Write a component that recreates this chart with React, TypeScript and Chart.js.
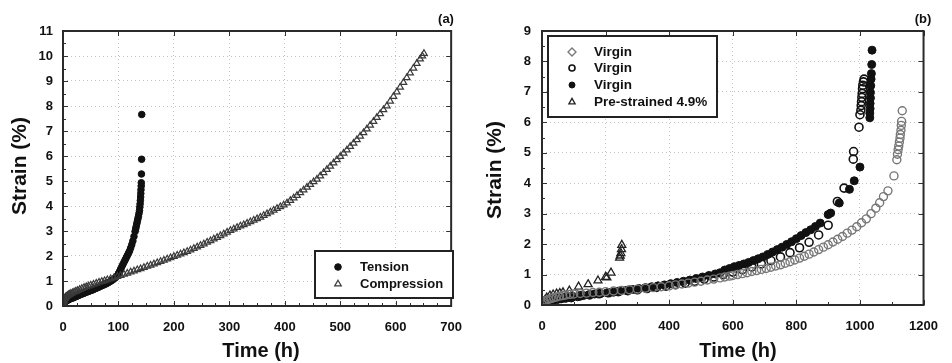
import React, { useEffect, useRef } from "react";
import { Chart, registerables } from "chart.js";
Chart.register(...registerables);

const FONT = '"Liberation Sans", Arial, Helvetica, sans-serif';

// ---------- Panel (a) ----------
const aLabels = ["Tension", "Compression"];
const aTensionTime = [0, 0.5, 1, 2, 3, 4, 6, 8, 10, 13, 16, 19, 22, 25, 28, 31, 34, 37, 40, 43, 46, 49, 52, 55, 58, 61, 64, 67, 70, 73, 76, 79, 82, 85, 88, 91, 94, 97, 100, 102, 104, 106, 108, 110, 112, 114, 116, 118, 120, 122, 124, 126, 128, 130, 131, 132, 133, 134, 135, 136, 137, 138, 138.5, 139, 139.5, 140, 140.3, 140.6, 141, 141.2, 141.5, 141.8, 142];
const aTensionStrain = [0.02, 0.06, 0.09, 0.12, 0.15, 0.17, 0.2, 0.23, 0.25, 0.28, 0.31, 0.33, 0.36, 0.39, 0.42, 0.45, 0.48, 0.5, 0.53, 0.56, 0.58, 0.61, 0.63, 0.66, 0.69, 0.72, 0.75, 0.78, 0.81, 0.84, 0.87, 0.9, 0.94, 0.98, 1.02, 1.07, 1.12, 1.19, 1.3, 1.38, 1.48, 1.57, 1.66, 1.75, 1.84, 1.93, 2.02, 2.11, 2.2, 2.32, 2.45, 2.6, 2.78, 2.98, 3.08, 3.18, 3.28, 3.38, 3.48, 3.58, 3.7, 3.82, 3.95, 4.08, 4.22, 4.36, 4.5, 4.65, 4.8, 4.93, 5.28, 5.87, 7.66];
const aCompTime = [0, 0.5, 1, 1.5, 2, 3, 4, 5, 6, 8, 10, 12, 14, 17, 20, 23, 26, 30, 34, 38, 42, 46, 50, 55, 60, 65, 70, 75, 80, 86, 92, 98, 104, 110, 116, 122, 128, 134, 140, 146, 152, 158, 164, 170, 176, 182, 188, 194, 200, 206, 212, 218, 224, 230, 236, 242, 248, 254, 260, 266, 272, 278, 284, 290, 296, 302, 308, 314, 320, 326, 332, 338, 344, 350, 356, 362, 368, 374, 380, 386, 392, 398, 404, 410, 416, 422, 428, 434, 440, 446, 452, 458, 464, 470, 476, 482, 488, 494, 500, 506, 512, 518, 524, 530, 536, 542, 548, 554, 560, 566, 572, 578, 584, 590, 596, 602, 608, 614, 620, 626, 632, 638, 644, 648, 651];
const aCompStrain = [0, 0.08, 0.14, 0.2, 0.24, 0.3, 0.33, 0.36, 0.38, 0.42, 0.45, 0.47, 0.5, 0.53, 0.56, 0.59, 0.62, 0.66, 0.7, 0.74, 0.77, 0.8, 0.83, 0.87, 0.91, 0.95, 0.98, 1.01, 1.05, 1.09, 1.13, 1.18, 1.22, 1.27, 1.31, 1.36, 1.4, 1.45, 1.49, 1.54, 1.59, 1.63, 1.68, 1.73, 1.78, 1.83, 1.88, 1.93, 1.98, 2.03, 2.08, 2.13, 2.18, 2.24, 2.3, 2.36, 2.42, 2.48, 2.55, 2.61, 2.68, 2.74, 2.81, 2.88, 2.95, 3.02, 3.08, 3.14, 3.2, 3.25, 3.31, 3.37, 3.43, 3.49, 3.55, 3.62, 3.69, 3.76, 3.83, 3.9, 3.97, 4.04, 4.12, 4.22, 4.32, 4.42, 4.53, 4.64, 4.75, 4.86, 4.97, 5.07, 5.2, 5.33, 5.46, 5.59, 5.72, 5.85, 5.98, 6.11, 6.24, 6.38, 6.51, 6.65, 6.79, 6.93, 7.08, 7.23, 7.38, 7.54, 7.69, 7.85, 8.0, 8.19, 8.38, 8.56, 8.75, 8.94, 9.13, 9.32, 9.51, 9.7, 9.88, 10.0, 10.1];

// ---------- Panel (b) ----------
const bLabels = ["Virgin", "Virgin", "Virgin", "Pre-strained 4.9%"];
const bV1Time = [0, 4, 8, 14, 20, 28, 36, 45, 55, 65, 75, 88, 100, 120, 140, 160, 180, 200, 225, 250, 275, 300, 325, 350, 375, 400, 420, 440, 460, 480, 500, 520, 540, 560, 575, 590, 600, 615, 630, 645, 660, 675, 690, 705, 720, 735, 750, 765, 780, 795, 810, 825, 840, 855, 870, 885, 900, 915, 930, 945, 960, 975, 990, 1005, 1020, 1035, 1050, 1062, 1074, 1088, 1107, 1116, 1118, 1120, 1122, 1124, 1126, 1127, 1129, 1130, 1131, 1133];
const bV1Strain = [0.02, 0.07, 0.11, 0.15, 0.18, 0.21, 0.24, 0.26, 0.29, 0.31, 0.33, 0.35, 0.36, 0.38, 0.39, 0.41, 0.42, 0.44, 0.46, 0.48, 0.5, 0.52, 0.55, 0.57, 0.6, 0.63, 0.66, 0.69, 0.72, 0.75, 0.78, 0.82, 0.85, 0.89, 0.92, 0.95, 0.97, 1.0, 1.03, 1.06, 1.1, 1.13, 1.17, 1.2, 1.24, 1.28, 1.32, 1.37, 1.42, 1.48, 1.54, 1.6, 1.67, 1.74, 1.82, 1.9, 1.98, 2.07, 2.16, 2.25, 2.36, 2.46, 2.57, 2.7, 2.83, 3.0, 3.18, 3.36, 3.56, 3.75, 4.24, 4.77, 4.95, 5.1, 5.22, 5.35, 5.48, 5.6, 5.74, 5.9, 6.03, 6.38];
const bV2Time = [0, 6, 12, 22, 35, 50, 70, 95, 120, 150, 180, 210, 240, 270, 300, 330, 360, 390, 420, 450, 480, 510, 540, 570, 600, 630, 660, 690, 720, 750, 780, 810, 840, 870, 900, 929, 950, 979, 980, 997, 1000, 1003, 1004, 1005, 1006, 1007, 1008, 1009, 1011, 1013];
const bV2Strain = [0.03, 0.08, 0.12, 0.16, 0.19, 0.21, 0.24, 0.28, 0.3, 0.33, 0.37, 0.4, 0.44, 0.47, 0.5, 0.54, 0.58, 0.62, 0.67, 0.72, 0.78, 0.85, 0.92, 1.0, 1.08, 1.16, 1.25, 1.35, 1.46, 1.58, 1.72, 1.88, 2.06, 2.3, 2.62, 3.4, 3.84, 4.79, 5.04, 5.84, 6.25, 6.4, 6.55, 6.68, 6.82, 6.95, 7.1, 7.22, 7.33, 7.42];
const bV3Time = [0, 5, 10, 18, 27, 36, 48, 60, 75, 92, 112, 130, 148, 165, 185, 205, 225, 245, 265, 285, 305, 325, 345, 365, 385, 405, 425, 445, 465, 485, 505, 525, 545, 560, 575, 590, 605, 620, 635, 650, 665, 680, 695, 710, 725, 740, 755, 770, 785, 800, 815, 830, 845, 860, 875, 900, 908, 935, 967, 982, 1000, 1031, 1031, 1032, 1032, 1033, 1033, 1034, 1035, 1036, 1037, 1038];
const bV3Strain = [0.02, 0.06, 0.09, 0.12, 0.14, 0.16, 0.18, 0.2, 0.22, 0.23, 0.27, 0.31, 0.34, 0.36, 0.38, 0.4, 0.42, 0.45, 0.48, 0.51, 0.54, 0.57, 0.6, 0.63, 0.66, 0.7, 0.74, 0.78, 0.82, 0.87, 0.92, 0.97, 1.02, 1.06, 1.15, 1.2, 1.26, 1.3, 1.35, 1.4, 1.46, 1.52, 1.58, 1.66, 1.74, 1.82, 1.9, 1.99, 2.08, 2.18, 2.28, 2.38, 2.47, 2.58, 2.69, 2.97, 3.02, 3.35, 3.8, 4.08, 4.53, 6.15, 6.3, 6.45, 6.62, 6.8, 6.98, 7.2, 7.42, 7.6, 7.9, 8.37];
const bPreTime = [0, 5, 10, 15, 25, 35, 46, 56, 66, 86, 115, 145, 176, 200, 204, 217, 244, 246, 248, 250, 251];
const bPreStrain = [0.02, 0.1, 0.17, 0.24, 0.31, 0.34, 0.37, 0.39, 0.41, 0.47, 0.6, 0.68, 0.8, 0.92, 0.9, 1.06, 1.55, 1.62, 1.7, 1.83, 1.97];

const pts = (t: number[], s: number[]) => t.map((x, i) => ({ x, y: s[i] }));

type Marker = { style: string; r: number; fill: string | null; stroke: string; lw: number };

function drawMarker(ctx: CanvasRenderingContext2D, x: number, y: number, m: Marker) {
  ctx.beginPath();
  if (m.style === "circle") {
    ctx.arc(x, y, m.r, 0, Math.PI * 2);
  } else if (m.style === "triangle") {
    for (let k = 0; k < 3; k++) {
      const a = (k * 2 * Math.PI) / 3;
      const px = x + Math.sin(a) * m.r;
      const py = y - Math.cos(a) * m.r;
      if (k === 0) ctx.moveTo(px, py);
      else ctx.lineTo(px, py);
    }
  } else if (m.style === "rectRot") {
    ctx.moveTo(x, y - m.r);
    ctx.lineTo(x + m.r, y);
    ctx.lineTo(x, y + m.r);
    ctx.lineTo(x - m.r, y);
  }
  ctx.closePath();
  if (m.fill) {
    ctx.fillStyle = m.fill;
    ctx.fill();
  }
  ctx.lineWidth = m.lw;
  ctx.strokeStyle = m.stroke;
  ctx.stroke();
}

const decorPlugin = {
  id: "decor",
  afterDraw(chart: any, _args: any, o: any) {
    const ctx: CanvasRenderingContext2D = chart.ctx;
    const xs = chart.scales.x;
    const ys = chart.scales.y;
    const { left, right, top, bottom } = chart.chartArea;
    ctx.save();
    ctx.strokeStyle = "#333";
    ctx.lineWidth = 1;
    const tick = (x1: number, y1: number, x2: number, y2: number) => {
      ctx.beginPath();
      ctx.moveTo(x1, y1);
      ctx.lineTo(x2, y2);
      ctx.stroke();
    };
    for (let v = xs.min; v <= xs.max + 1e-9; v += o.xMinor) {
      const px = Math.round(xs.getPixelForValue(v)) + 0.5;
      const major = Math.abs(v / o.xMajor - Math.round(v / o.xMajor)) < 1e-6;
      tick(px, bottom, px, bottom - (major ? 5 : 3));
      if (major) tick(px, top, px, top + 5);
    }
    for (let v = ys.min; v <= ys.max + 1e-9; v += o.yMinor) {
      const py = Math.round(ys.getPixelForValue(v)) + 0.5;
      const major = Math.abs(v / o.yMajor - Math.round(v / o.yMajor)) < 1e-6;
      tick(left, py, left + (major ? 5 : 3), py);
      if (major) tick(right, py, right - 5, py);
    }
    ctx.strokeStyle = "#2a2a2a";
    ctx.lineWidth = 2;
    ctx.strokeRect(left, top, right - left, bottom - top);

    const L = o.legend;
    ctx.fillStyle = "#fff";
    ctx.fillRect(L.x1, L.y1, L.x2 - L.x1, L.y2 - L.y1);
    ctx.strokeStyle = "#222";
    ctx.lineWidth = 2;
    ctx.strokeRect(L.x1, L.y1, L.x2 - L.x1, L.y2 - L.y1);
    ctx.font = `bold ${L.fontSize}px ${FONT}`;
    ctx.textAlign = "left";
    ctx.textBaseline = "middle";
    L.items.forEach((it: any, i: number) => {
      const y = L.rows[i];
      drawMarker(ctx, L.mx, y, it.marker);
      ctx.fillStyle = "#111";
      ctx.fillText(it.label, L.tx, y + 0.5);
    });

    ctx.fillStyle = "#111";
    ctx.textAlign = "center";
    ctx.textBaseline = "middle";
    ctx.font = `bold 20px ${FONT}`;
    ctx.fillText(o.xTitle.text, o.xTitle.x, o.xTitle.y);
    ctx.save();
    ctx.translate(o.yTitle.x, o.yTitle.y);
    ctx.rotate(-Math.PI / 2);
    ctx.font = `bold 21px ${FONT}`;
    ctx.fillText(o.yTitle.text, 0, 0);
    ctx.restore();
    ctx.font = `bold 13px ${FONT}`;
    ctx.fillText(o.panel.text, o.panel.x, o.panel.y);
    ctx.restore();
  },
};

const plainTick = (v: any) => String(v);

function makeConfig(p: any) {
  const axisFont = { family: FONT, size: 13, weight: "bold" as const };
  return {
    type: "scatter" as const,
    data: { datasets: p.datasets },
    plugins: [decorPlugin],
    options: {
      responsive: false,
      animation: false as const,
      events: [],
      layout: { padding: { left: 0, top: p.top, right: p.W - p.right, bottom: 0 } },
      plugins: {
        legend: { display: false },
        tooltip: { enabled: false },
        decor: p.decor,
      },
      scales: {
        x: {
          type: "linear" as const,
          min: p.xMin,
          max: p.xMax,
          afterFit: (s: any) => {
            s.height = p.H - p.bottom;
          },
          ticks: { stepSize: p.xStep, color: "#111", font: axisFont, padding: 14, autoSkip: false, maxRotation: 0, callback: plainTick },
          grid: { color: "#c4c4c4", lineWidth: 1, drawTicks: false },
          border: { display: false, dash: [1, 3] },
        },
        y: {
          type: "linear" as const,
          min: p.yMin,
          max: p.yMax,
          afterFit: (s: any) => {
            s.width = p.left;
          },
          ticks: { stepSize: p.yStep, color: "#111", font: axisFont, padding: p.yPad, autoSkip: false, callback: plainTick },
          grid: { color: "#c4c4c4", lineWidth: 1, drawTicks: false },
          border: { display: false, dash: [1, 3] },
        },
      },
    },
  };
}

const W = 476;
const H = 363;

function Panel({ cfg, offset }: { cfg: any; offset: number }) {
  const ref = useRef<HTMLCanvasElement>(null);
  useEffect(() => {
    const chart = new Chart(ref.current as HTMLCanvasElement, makeConfig(cfg) as any);
    return () => chart.destroy();
  }, []);
  return (
    <div style={{ position: "absolute", left: offset, top: 0, width: W, height: H }}>
      <canvas ref={ref} width={W} height={H} style={{ width: W, height: H, display: "block" }} />
    </div>
  );
}

const tensionM: Marker = { style: "circle", r: 3.3, fill: "#111", stroke: "#111", lw: 1 };
const compM: Marker = { style: "triangle", r: 3.8, fill: null, stroke: "#3a3a3a", lw: 1.2 };
const v1M: Marker = { style: "circle", r: 4, fill: null, stroke: "#777", lw: 1.4 };
const v1LegendM: Marker = { style: "rectRot", r: 4, fill: null, stroke: "#777", lw: 1.3 };
const v2M: Marker = { style: "circle", r: 4, fill: null, stroke: "#111", lw: 1.6 };
const v3M: Marker = { style: "circle", r: 4, fill: "#111", stroke: "#111", lw: 1 };
const preM: Marker = { style: "triangle", r: 4.6, fill: null, stroke: "#222", lw: 1.3 };

const ds = (label: string, t: number[], s: number[], m: Marker) => ({
  label,
  data: pts(t, s),
  pointStyle: m.style,
  pointRadius: m.r,
  pointBackgroundColor: m.fill ?? "rgba(0,0,0,0)",
  pointBorderColor: m.stroke,
  pointBorderWidth: m.lw,
  showLine: false,
});

const cfgA = {
  W,
  H,
  left: 63,
  right: 459,
  top: 31,
  bottom: 306,
  xMin: 0,
  xMax: 700,
  xStep: 100,
  yMin: 0,
  yMax: 11,
  yStep: 1,
  yPad: 10,
  datasets: [
    ds(aLabels[1], aCompTime, aCompStrain, compM),
    ds(aLabels[0], aTensionTime, aTensionStrain, tensionM),
  ],
  decor: {
    xMajor: 100,
    xMinor: 25,
    yMajor: 1,
    yMinor: 0.5,
    xTitle: { text: "Time (h)", x: 261, y: 351 },
    yTitle: { text: "Strain (%)", x: 20, y: 166 },
    panel: { text: "(a)", x: 446, y: 19 },
    legend: {
      x1: 315,
      y1: 251,
      x2: 453,
      y2: 298,
      mx: 338,
      tx: 360,
      rows: [267, 284],
      fontSize: 13,
      items: [
        { label: aLabels[0], marker: tensionM },
        { label: aLabels[1], marker: compM },
      ],
    },
  },
};

const cfgB = {
  W,
  H,
  left: 66,
  right: 458,
  top: 31,
  bottom: 305,
  xMin: 0,
  xMax: 1200,
  xStep: 200,
  yMin: 0,
  yMax: 9,
  yStep: 1,
  yPad: 11,
  datasets: [
    ds(bLabels[0], bV1Time, bV1Strain, v1M),
    ds(bLabels[3], bPreTime, bPreStrain, preM),
    ds(bLabels[1], bV2Time, bV2Strain, v2M),
    ds(bLabels[2], bV3Time, bV3Strain, v3M),
  ],
  decor: {
    xMajor: 200,
    xMinor: 100,
    yMajor: 1,
    yMinor: 0.5,
    xTitle: { text: "Time (h)", x: 262, y: 351 },
    yTitle: { text: "Strain (%)", x: 19, y: 170 },
    panel: { text: "(b)", x: 447, y: 19 },
    legend: {
      x1: 72,
      y1: 36,
      x2: 241,
      y2: 117,
      mx: 96,
      tx: 118,
      rows: [52, 68, 85, 102],
      fontSize: 13.5,
      items: [
        { label: bLabels[0], marker: v1LegendM },
        { label: bLabels[1], marker: { ...v2M, r: 3 } },
        { label: bLabels[2], marker: { ...v3M, r: 3 } },
        { label: bLabels[3], marker: { ...preM, r: 3.6 } },
      ],
    },
  },
};

export default function App() {
  return (
    <div style={{ position: "absolute", left: 0, top: 0, width: 952, height: 363, background: "#fff", overflow: "hidden" }}>
      <Panel cfg={cfgA} offset={0} />
      <Panel cfg={cfgB} offset={476} />
    </div>
  );
}
